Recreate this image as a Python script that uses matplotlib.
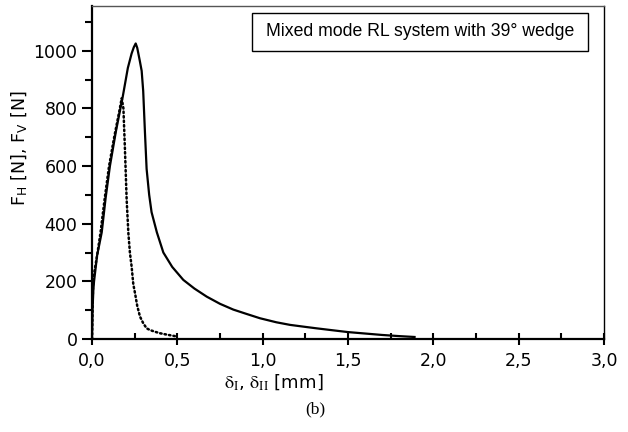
import matplotlib
matplotlib.use("Agg")
import matplotlib.pyplot as plt
from matplotlib.ticker import MultipleLocator, FuncFormatter
from matplotlib.patches import Rectangle

plt.rcParams["mathtext.fontset"] = "stix"

# Solid curve (F_H)
fh_x = [0.0, 0.003, 0.008, 0.012, 0.03, 0.057, 0.08, 0.105, 0.14, 0.18, 0.21,
        0.232, 0.245, 0.256, 0.265, 0.28, 0.291, 0.30, 0.31, 0.32, 0.335, 0.349, 0.38, 0.418, 0.47,
        0.535, 0.60, 0.672, 0.75, 0.828, 0.9, 0.984, 1.08, 1.16, 1.25, 1.316, 1.4, 1.5, 1.6, 1.7, 1.8, 1.89]
fh_y = [0, 100, 170, 200, 290, 370, 490, 600, 720, 840, 940,
        990, 1012, 1025, 1010, 965, 930, 860, 720, 590, 500, 440, 370, 300, 250,
        205, 175, 147, 122, 102, 88, 72, 58, 49, 42, 37, 31, 24, 19, 14, 10, 7]

# Dotted curve (F_V)
fv_x = [0.0, 0.002, 0.004, 0.006, 0.01, 0.03, 0.05, 0.075, 0.10, 0.13, 0.16, 0.174,
        0.184, 0.193, 0.203, 0.213, 0.222, 0.232, 0.242, 0.252, 0.265, 0.281, 0.30, 0.32, 0.34, 0.37,
        0.398, 0.44, 0.486, 0.50]
fv_y = [0, 60, 130, 190, 220, 290, 370, 490, 600, 700, 790, 835,
        800, 658, 484, 368, 300, 252, 190, 159, 115, 78, 55, 37, 31, 25,
        20, 15, 10, 8]

xticks = [0.0, 0.5, 1.0, 1.5, 2.0, 2.5, 3.0]
yticks = [0, 200, 400, 600, 800, 1000]
box_text = "Mixed mode RL system with 39° wedge"
caption = "(b)"

fig = plt.figure(figsize=(6.28, 4.32), dpi=100)
ax = fig.add_axes([92/628, 1-339/432, (604-92)/628, (339-6)/432])

ax.plot(fh_x, fh_y, color="black", lw=1.6, solid_joinstyle="round")
ax.plot(fv_x, fv_y, color="black", lw=1.8, linestyle=(0, (0.6, 1.2)), dash_capstyle="round")

ax.set_xlim(0, 3.0)
ax.set_ylim(0, 1155)
ax.set_xticks(xticks)
ax.set_yticks(yticks)
ax.xaxis.set_minor_locator(MultipleLocator(0.25))
ax.yaxis.set_minor_locator(MultipleLocator(100))
ax.xaxis.set_major_formatter(FuncFormatter(lambda v, p: f"{v:.1f}".replace(".", ",")))
ax.yaxis.set_major_formatter(FuncFormatter(lambda v, p: f"{int(v)}"))

ax.tick_params(axis="both", which="major", labelsize=12.5, width=1.5, color="black")
ax.tick_params(axis="y", which="major", direction="out", length=7)
ax.tick_params(axis="y", which="minor", direction="out", length=5, width=1.5)
ax.tick_params(axis="x", which="major", direction="inout", length=8, pad=5)
ax.tick_params(axis="x", which="minor", direction="in", length=4, width=1.5)
ax.tick_params(top=False, right=False, which="both")

ax.spines["left"].set_linewidth(1.6)
ax.spines["bottom"].set_linewidth(1.6)
ax.spines["top"].set_linewidth(1.0)
ax.spines["top"].set_color("#555555")
ax.spines["right"].set_linewidth(1.0)

# legend-like text box
fig.patches.append(Rectangle((252/628, 1-51/432), (588-252)/628, (51-13)/432,
                             transform=fig.transFigure, fc="white", ec="black", lw=1.0, zorder=5))
fig.text((252 + 588) / 2 / 628, 1 - 32 / 432, box_text, ha="center", va="center",
         fontsize=12.7, family="Liberation Sans", zorder=6)

ax.set_ylabel(r"F$_\mathregular{H}$ [N], F$_\mathregular{V}$ [N]", fontsize=12.5)
ax.yaxis.set_label_coords((29 - 92) / 512, 0.573)
ax.set_xlabel(r"$\mathrm{\delta_{I}}$, $\mathrm{\delta_{II}}$ [mm]", fontsize=13)
ax.xaxis.set_label_coords((274 - 92) / 512, -0.10)

fig.text(315 / 628, 1 - 409 / 432, caption, ha="center", va="center",
         fontsize=12.5, family="Liberation Serif")

fig.savefig("out.png", dpi=100)
